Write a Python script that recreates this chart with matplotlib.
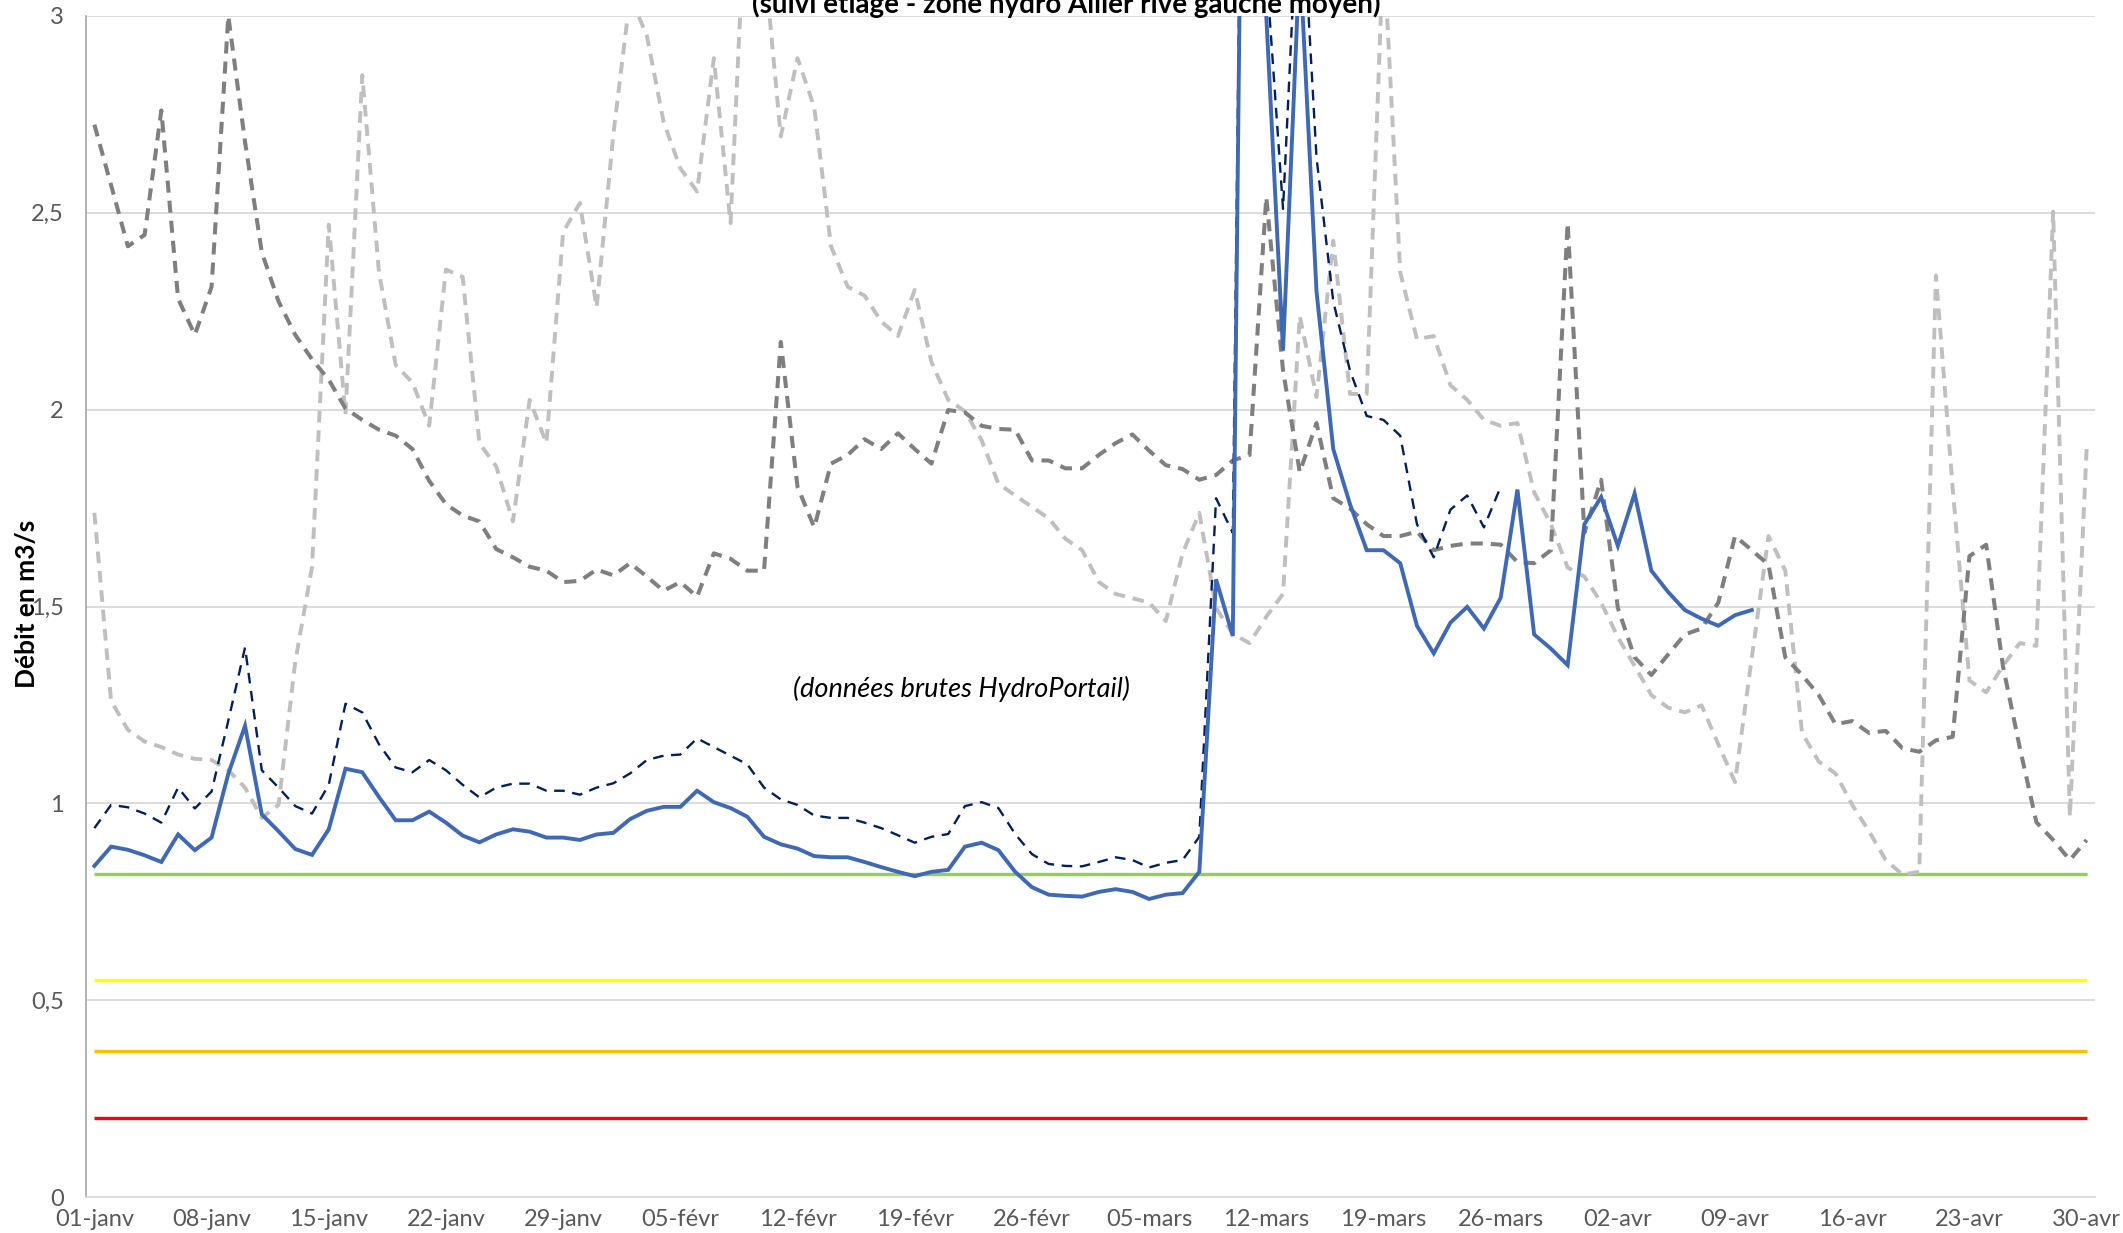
import matplotlib
matplotlib.use("Agg")
import matplotlib.pyplot as plt
from matplotlib import font_manager as fm

# ---------------- data ----------------
tick_labels = ['01-janv', '08-janv', '15-janv', '22-janv', '29-janv', '05-févr',
               '12-févr', '19-févr', '26-févr', '05-mars', '12-mars', '19-mars',
               '26-mars', '02-avr', '09-avr', '16-avr', '23-avr', '30-avr']

# current year (solid blue), 01-janv .. 10-avr
debit_actuel = [0.841, 0.890, 0.882, 0.868, 0.851, 0.921, 0.881, 0.913, 1.075, 1.197,
                0.972, 0.929, 0.884, 0.869, 0.934, 1.088, 1.079, 1.016, 0.957, 0.957,
                0.979, 0.951, 0.918, 0.901, 0.921, 0.934, 0.928, 0.913, 0.913, 0.907,
                0.921, 0.925, 0.960, 0.981, 0.991, 0.991, 1.032, 1.003, 0.988, 0.966,
                0.915, 0.896, 0.885, 0.866, 0.863, 0.863, 0.851, 0.838, 0.826, 0.815,
                0.826, 0.831, 0.890, 0.900, 0.881, 0.826, 0.787, 0.768, 0.765, 0.763,
                0.775, 0.782, 0.775, 0.757, 0.768, 0.772, 0.826, 1.569, 1.425, 5.4,
                3.0, 2.15, 3.15, 2.30, 1.90, 1.76, 1.643, 1.643, 1.61, 1.451,
                1.381, 1.459, 1.499, 1.444, 1.522, 1.797, 1.429, 1.393, 1.351, 1.709,
                1.778, 1.654, 1.787, 1.591, 1.537, 1.491, 1.469, 1.451, 1.478, 1.491]

# raw data (navy dashed), 01-janv .. 26-mars
debit_brut = [0.937, 0.996, 0.990, 0.974, 0.951, 1.040, 0.987, 1.030, 1.21, 1.396,
              1.084, 1.040, 0.993, 0.974, 1.047, 1.253, 1.231, 1.150, 1.091, 1.079,
              1.110, 1.084, 1.047, 1.015, 1.040, 1.050, 1.050, 1.032, 1.032, 1.022,
              1.040, 1.051, 1.076, 1.110, 1.121, 1.124, 1.165, 1.143, 1.121, 1.099,
              1.040, 1.010, 0.996, 0.969, 0.963, 0.963, 0.951, 0.937, 0.919, 0.900,
              0.915, 0.922, 0.993, 1.003, 0.988, 0.922, 0.871, 0.846, 0.841, 0.840,
              0.851, 0.863, 0.856, 0.837, 0.849, 0.856, 0.915, 1.775, 1.687, 5.3,
              3.12, 2.51, 3.4, 2.64, 2.275, 2.099, 1.984, 1.974, 1.934, 1.709,
              1.625, 1.746, 1.782, 1.701, 1.804]

# previous year (dark grey dashed)
debit_annee_1 = [2.724, 2.57, 2.415, 2.444, 2.760, 2.282, 2.190, 2.312, 3.0, 2.68,
                 2.40, 2.275, 2.19, 2.128, 2.076, 2.003, 1.974, 1.949, 1.934, 1.90,
                 1.819, 1.760, 1.731, 1.716, 1.646, 1.625, 1.601, 1.591, 1.562, 1.565,
                 1.594, 1.579, 1.610, 1.576, 1.540, 1.562, 1.525, 1.635, 1.621, 1.591,
                 1.591, 2.172, 1.804, 1.701, 1.863, 1.885, 1.925, 1.90, 1.940, 1.90,
                 1.863, 1.999, 1.993, 1.959, 1.951, 1.949, 1.871, 1.871, 1.851, 1.851,
                 1.885, 1.915, 1.937, 1.896, 1.859, 1.849, 1.822, 1.834, 1.871, 1.885,
                 2.54, 2.1, 1.841, 1.966, 1.775, 1.749, 1.709, 1.679, 1.679, 1.69,
                 1.643, 1.654, 1.66, 1.66, 1.657, 1.613, 1.61, 1.643, 2.474, 1.687,
                 1.822, 1.496, 1.371, 1.326, 1.378, 1.429, 1.444, 1.51, 1.679, 1.643,
                 1.606, 1.371, 1.326, 1.275, 1.201, 1.209, 1.179, 1.184, 1.14, 1.131,
                 1.16, 1.169, 1.628, 1.657, 1.349, 1.143, 0.952, 0.907, 0.856, 0.907]

# year before (light grey dashed)
debit_annee_2 = [1.738, 1.26, 1.187, 1.157, 1.143, 1.124, 1.113, 1.110, 1.084, 1.04,
                 0.963, 0.996, 1.36, 1.60, 2.47, 1.988, 2.85, 2.349, 2.113, 2.069,
                 1.959, 2.356, 2.337, 1.915, 1.856, 1.716, 2.025, 1.915, 2.451, 2.525,
                 2.26, 2.70, 3.05, 2.95, 2.731, 2.613, 2.554, 2.893, 2.474, 3.4,
                 3.15, 2.694, 2.893, 2.768, 2.415, 2.312, 2.29, 2.224, 2.187, 2.304,
                 2.121, 2.025, 1.996, 1.922, 1.812, 1.782, 1.753, 1.724, 1.672, 1.643,
                 1.562, 1.532, 1.521, 1.51, 1.463, 1.635, 1.738, 1.496, 1.43, 1.407,
                 1.474, 1.532, 2.238, 2.032, 2.429, 2.04, 2.04, 3.18, 2.349, 2.179,
                 2.187, 2.062, 2.025, 1.974, 1.959, 1.966, 1.79, 1.709, 1.599, 1.576,
                 1.51, 1.422, 1.349, 1.275, 1.243, 1.231, 1.249, 1.15, 1.054, 1.37,
                 1.679, 1.591, 1.179, 1.106, 1.076, 0.996, 0.929, 0.856, 0.819, 0.826,
                 2.341, 1.8, 1.312, 1.282, 1.349, 1.407, 1.40, 2.503, 0.966, 1.90]

# thresholds
seuil_vigilance = 0.82
seuil_alerte = 0.55
seuil_alerte_renforcee = 0.37
seuil_crise = 0.20

n_days = 120

# ---------------- fonts ----------------
avail = {f.name for f in fm.fontManager.ttflist}
def pick(*names):
    out = [n for n in names if n in avail]
    return out + ['DejaVu Sans']

tick_font = pick('Liberation Sans Narrow', 'Lato', 'Open Sans')
main_font = pick('Lato', 'Open Sans', 'Liberation Sans')

# ---------------- figure ----------------
W, H = 2123, 1233
fig = plt.figure(figsize=(W / 100, H / 100), dpi=100)
ax = fig.add_axes([86 / W, 1 - 1197 / H, (2095 - 86) / W, (1197 - 16) / H])

days = list(range(n_days))

# thresholds
for val, col in [(seuil_vigilance, '#92D050'), (seuil_alerte, '#FFFF00'),
                 (seuil_alerte_renforcee, '#FFC000'), (seuil_crise, '#FF0000')]:
    ax.plot([days[0], days[-1]], [val, val], color=col, lw=2.4,
            solid_capstyle='butt', zorder=3)

l2, = ax.plot(days[:len(debit_annee_2)], debit_annee_2, color='#BFBFBF', lw=2.8, zorder=4)
l2.set_dashes([3.0, 2.0])
l1, = ax.plot(days[:len(debit_annee_1)], debit_annee_1, color='#7F7F7F', lw=2.9, zorder=5)
l1.set_dashes([3.0, 2.0])
lb, = ax.plot(days[:len(debit_brut)], debit_brut, color='#002060', lw=1.7, zorder=6)
lb.set_dashes([4.5, 3.2])
ax.plot(days[:len(debit_actuel)], debit_actuel, color='#3F68B5', lw=2.8, zorder=7,
        solid_joinstyle='miter')

ax.set_xlim(-0.5, n_days - 0.5)
ax.set_ylim(0, 3)

# grid
ax.set_yticks([0, 0.5, 1, 1.5, 2, 2.5, 3])
ax.set_yticklabels(['0', '0,5', '1', '1,5', '2', '2,5', '3'])
ax.yaxis.grid(True, color='#D9D9D9', lw=1.3, zorder=0)
ax.set_axisbelow(True)

ax.set_xticks(list(range(0, n_days, 7)))
ax.set_xticklabels(tick_labels)

ax.tick_params(axis='both', length=0, colors='#595959', labelsize=17)
ax.tick_params(axis='y', pad=16)
ax.tick_params(axis='x', pad=9)
for lab in ax.get_xticklabels() + ax.get_yticklabels():
    lab.set_family(tick_font)

for s in ['top', 'right']:
    ax.spines[s].set_visible(False)
ax.spines['bottom'].set_color('#D9D9D9')
ax.spines['bottom'].set_linewidth(1.3)
ax.spines['left'].set_color('#A6A6A6')
ax.spines['left'].set_linewidth(1.2)

# texts
fig.text(27 / W, 1 - 604 / H, 'Débit en m3/s', rotation=90, ha='center', va='center',
         fontsize=19, fontweight='bold', family=main_font, color='black')
fig.text(1066 / W, 1 - 13 / H, '(suivi etiage - zone hydro Allier rive gauche moyen)',
         ha='center', va='baseline', fontsize=20, fontweight='bold',
         family=main_font, color='black', zorder=20)
ax.text(51.8, 1.29, '(données brutes HydroPortail)', ha='center', va='center',
        fontsize=19.5, style='italic', family=main_font, color='black', zorder=20)

fig.savefig('out.png', dpi=100)
